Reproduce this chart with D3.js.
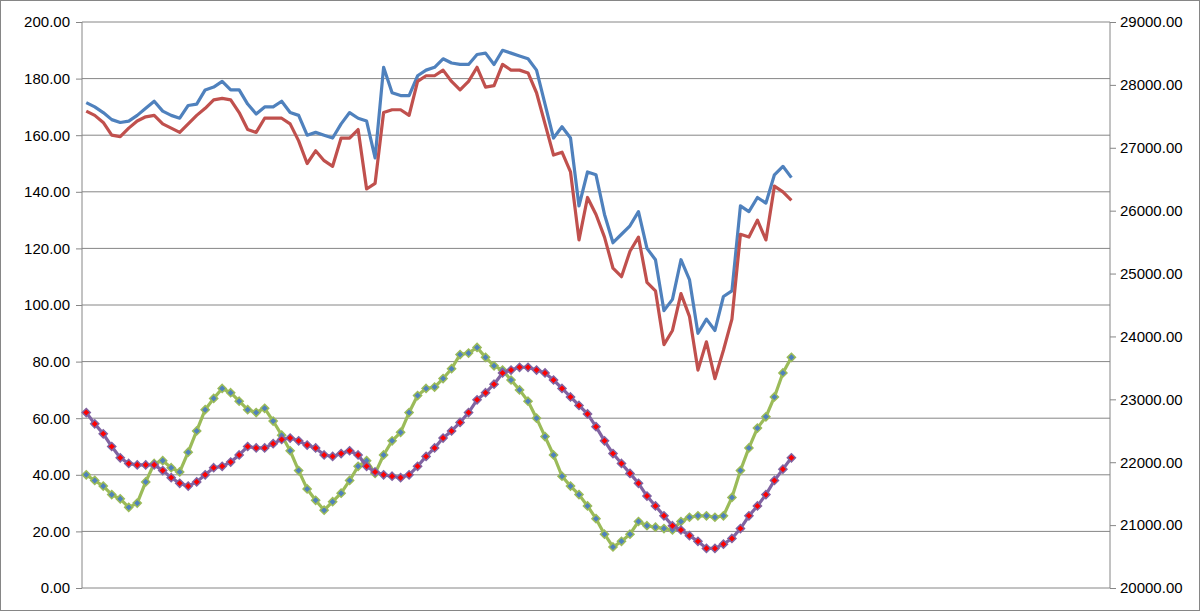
<!DOCTYPE html><html><head><meta charset="utf-8"><script src="https://d3js.org/d3.v7.min.js"></script>
<style>body{margin:0;background:#fff}text{font-family:"Liberation Sans",Arial,sans-serif}</style></head><body>
<svg id="c" width="1200" height="611"></svg>
<script>
const blueLine=[171.5,170,168,165.5,164.5,165,167,169.5,172,168.5,167,166,170.5,171,176,177,179,176,176,171,167.5,170,170,172,168,167,160,161,160,159,164,168,166,165,152,184,175,174,174,181,183,184,187,185.5,185,185,188.5,189,185,190,189,188,187,183,171,159,163,159,135,147,146,132,122,125,128,133,120,116,98,102,116,109,90,95,91,103,105,135,133,138,136,146,149,145];
const redLine=[168.5,167,164.5,160,159.5,162.5,165,166.5,167,164,162.5,161,164,167,169.5,172.5,173,172.5,168,162,161,166,166,166,164,158,150,154.5,151,149,159,159,162,141,143,168,169,169,167,179,181,181,183,179,176,179,184,177,177.5,185,183,183,182,175,164,153,154,147,123,138,132,124,113,110,119,124,108,105,86,91,104,96,77,87,74,84,95,125,124,130,123,142,140,137];
const greenMarkers=[40,38,36,33,31.5,28.5,30,37.5,44,45,42.5,41,48,55.5,63,67,70.5,69,66,63,62,63.5,59,54,48.5,41.5,35,31,27.5,30.5,33.5,38,43,45,40.5,47,52,55,62,68,70.5,71,74,77.5,82.5,83,85,81.5,78.5,77,73.5,70,66,60,53.5,47,39.5,36,33,29,24.5,19,14.5,16.5,19,23.5,22,21.5,21,20.5,23.5,25,25.5,25.5,25,25.5,32,41.5,49.5,56.5,60.5,67.5,76,81.5];
const purpleMarkers=[62,58,54.5,50,46,44,43.5,43.5,43.5,41.5,39,37,36,37.5,40,42.5,43,44.5,47,50,49.5,49.5,51,52.5,53,52,50.5,49.5,47,46.5,47.5,48.5,47,43,41,40,39.5,39,40,43,46.5,49.5,53,55.5,58.5,62,66.5,69,72,76,77,78,78,77,76,73.5,70.5,67.5,64.5,61.5,57,52,47.5,44,40.5,37,32.5,29,25.5,22,20.5,18.5,16.5,14,14,15.5,17.5,21,25.5,29,33,38,42,46];
const leftTicks=[0,20,40,60,80,100,120,140,160,180,200];
const rightTicks=[20000,21000,22000,23000,24000,25000,26000,27000,28000,29000];
const nCats=121;

const svg=d3.select("#c");
svg.append("rect").attr("x",0.5).attr("y",0.5).attr("width",1199).attr("height",610).attr("fill","#fff").attr("stroke","#868686");
const L=82,R=1110,T=22,B=588;
const x=d3.scaleBand().domain(d3.range(nCats)).range([L,R]);
const cx=i=>x(i)+x.bandwidth()/2;
const y=d3.scaleLinear().domain([0,200]).range([B,T]);
const y2=d3.scaleLinear().domain([20000,29000]).range([B,T]);
svg.append("g").selectAll("line").data(leftTicks.slice(1)).join("line")
 .attr("x1",L).attr("x2",R).attr("y1",d=>y(d)).attr("y2",d=>y(d)).attr("stroke","#868686");
const ga=svg.append("g").attr("transform",`translate(${L},0)`).call(d3.axisLeft(y).tickValues(leftTicks).tickFormat(d3.format(".2f")).tickSize(6).tickPadding(6));
const gb=svg.append("g").attr("transform",`translate(${R},0)`).call(d3.axisRight(y2).tickValues(rightTicks).tickFormat(d3.format(".2f")).tickSize(6).tickPadding(4));
svg.append("line").attr("x1",L).attr("x2",R).attr("y1",B).attr("y2",B).attr("stroke","#868686");
[ga,gb].forEach(g=>{g.selectAll("path,line").attr("stroke","#868686");g.selectAll("text").attr("font-size",15).attr("fill","#000").attr("font-family","Liberation Sans, Arial, sans-serif");g.select(".domain").attr("d",g===ga?`M0,${T}V${B}`:`M0,${T}V${B}`);});
const line=d3.line().x((d,i)=>cx(i)).y(d=>y(d));
function drawLine(data,col){svg.append("path").datum(data).attr("d",line).attr("fill","none").attr("stroke",col).attr("stroke-width",3.2).attr("stroke-linejoin","round");}
drawLine(blueLine,"#4F81BD");drawLine(redLine,"#C0504D");
function drawMarkers(data,lineCol,fill,stroke){
 drawLine(data,lineCol);
 svg.append("g").selectAll("path").data(data).join("path")
  .attr("d",d3.symbol(d3.symbolDiamond2,42)).attr("transform",(d,i)=>`translate(${cx(i)},${y(d)})`)
  .attr("fill",fill).attr("stroke",stroke).attr("stroke-width",1.5);
}
drawMarkers(greenMarkers,"#9BBB59","#4F81BD","#9BBB59");
drawMarkers(purpleMarkers,"#8064A2","#FF0000","#8064A2");
</script></body></html>
